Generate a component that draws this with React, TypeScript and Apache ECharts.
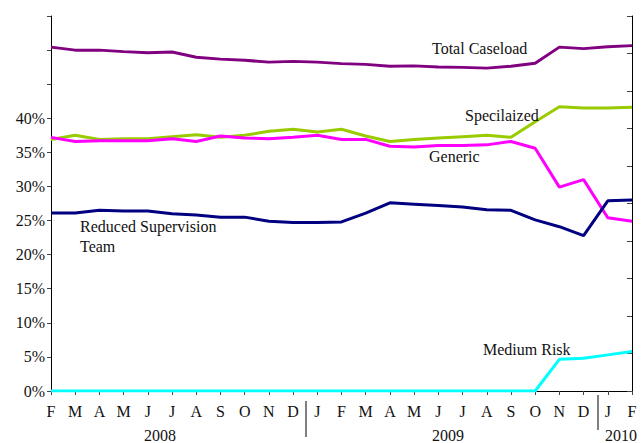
import React, { useEffect, useRef } from "react";
import * as echarts from "echarts";

const months = ["F","M","A","M","J","J","A","S","O","N","D","J","F","M","A","M","J","J","A","S","O","N","D","J","F"];
const years = ["2008", "2009", "2010"];

// Total caseload on right (unlabelled) axis, arbitrary units 0-10
const totalCaseload = [9.17,9.09,9.09,9.05,9.02,9.04,8.90,8.85,8.82,8.77,8.79,8.77,8.73,8.71,8.66,8.67,8.64,8.63,8.61,8.66,8.74,9.17,9.13,9.18,9.21];
const specialized = [36.9,37.5,36.9,37.0,37.0,37.3,37.6,37.2,37.5,38.1,38.4,38.0,38.4,37.4,36.6,36.9,37.1,37.3,37.5,37.2,39.5,41.7,41.5,41.5,41.6];
const generic = [37.2,36.6,36.7,36.7,36.7,37.0,36.6,37.4,37.1,37.0,37.2,37.5,36.9,36.9,35.9,35.8,36.0,36.0,36.1,36.6,35.6,29.9,31.0,25.4,24.9];
const reducedSupervision = [26.1,26.1,26.5,26.4,26.4,26.0,25.8,25.5,25.5,24.9,24.7,24.7,24.8,26.1,27.6,27.4,27.2,27.0,26.6,26.5,25.1,24.1,22.8,27.9,28.0];
const mediumRisk = [0,0,0,0,0,0,0,0,0,0,0,0,0,0,0,0,0,0,0,0,0,4.65,4.8,5.3,5.8];

const FONT = "'Liberation Serif', 'Times New Roman', serif";

export default function App() {
  const ref = useRef<HTMLDivElement>(null);
  useEffect(() => {
    if (!ref.current) return;
    const chart = echarts.init(ref.current, null, { renderer: "svg" });
    const lineSeries = (name: string, data: number[], color: string, yAxisIndex = 0) => ({
      name,
      type: "line",
      data,
      yAxisIndex,
      showSymbol: false,
      symbol: "none",
      lineStyle: { color, width: 3 },
      itemStyle: { color },
      z: 3,
    });
    const txt = (x: number, y: number, text: string, align = "left") => ({
      type: "text",
      x,
      y,
      style: { text, fill: "#111", fontFamily: FONT, fontSize: 16, textAlign: align, textVerticalAlign: "middle" },
      z: 10,
    });
    chart.setOption({
      animation: false,
      textStyle: { fontFamily: FONT },
      grid: { left: 51, right: 9, top: 16, bottom: 52, containLabel: false },
      xAxis: {
        type: "category",
        data: months,
        boundaryGap: false,
        axisLine: { show: true, lineStyle: { color: "#000", width: 1 } },
        axisTick: { show: true, length: 4, inside: false, lineStyle: { color: "#444" } },
        axisLabel: { color: "#111", fontFamily: FONT, fontSize: 16, margin: 12, interval: 0 },
        splitLine: { show: false },
      },
      yAxis: [
        {
          type: "value",
          min: 0,
          max: 55,
          interval: 5,
          axisLine: { show: true, lineStyle: { color: "#000", width: 1 } },
          axisTick: { show: true, length: 4, lineStyle: { color: "#444" } },
          axisLabel: {
            color: "#111",
            fontFamily: FONT,
            fontSize: 16,
            margin: 6,
            formatter: (v: number) => (v <= 40 ? v + "%" : ""),
          },
          splitLine: { show: false },
        },
        {
          type: "value",
          min: 0,
          max: 10,
          interval: 1,
          position: "right",
          axisLine: { show: true, lineStyle: { color: "#000", width: 1 } },
          axisTick: { show: true, inside: true, length: 5, lineStyle: { color: "#444" } },
          axisLabel: { show: false },
          splitLine: { show: false },
        },
      ],
      series: [
        lineSeries("Total Caseload", totalCaseload, "#800080", 1),
        lineSeries("Specilaized", specialized, "#99cc00"),
        lineSeries("Generic", generic, "#ff00ff"),
        lineSeries("Reduced Supervision Team", reducedSupervision, "#000080"),
        lineSeries("Medium Risk", mediumRisk, "#00ffff"),
      ],
      graphic: [
        txt(432, 48, "Total Caseload"),
        txt(465, 115, "Specilaized"),
        txt(429, 156, "Generic"),
        txt(80, 226, "Reduced Supervision"),
        txt(80, 246, "Team"),
        txt(483, 349, "Medium Risk"),
        txt(160, 435, years[0], "center"),
        txt(448, 435, years[1], "center"),
        txt(621, 435, years[2], "center"),
        { type: "line", shape: { x1: 306, y1: 401, x2: 306, y2: 437 }, style: { stroke: "#555", lineWidth: 1.5 } },
        { type: "line", shape: { x1: 598, y1: 395, x2: 598, y2: 430 }, style: { stroke: "#555", lineWidth: 1.5 } },
      ],
    });
    return () => chart.dispose();
  }, []);
  return <div ref={ref} style={{ width: 641, height: 443, position: "absolute", left: 0, top: 0 }} />;
}
